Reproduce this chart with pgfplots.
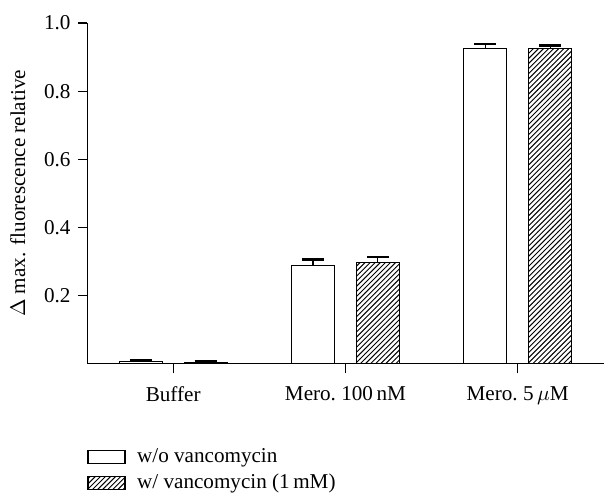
\documentclass[border=0pt]{standalone}
\usepackage{fontspec}
\setmainfont{Liberation Serif}
\usepackage{pgfplots}
\pgfplotsset{compat=1.18}
\usetikzlibrary{patterns.meta}

\pgfdeclarepattern{
  name=hatch,
  parameters={},
  bottom left={\pgfpoint{-0.1pt}{-0.1pt}},
  top right={\pgfpoint{2.5pt}{2.5pt}},
  tile size={\pgfpoint{2.4pt}{2.4pt}},
  tile transformation={},
  code={
    \pgfsetlinewidth{0.45pt}
    \pgfpathmoveto{\pgfpoint{-0.1pt}{-0.1pt}}
    \pgfpathlineto{\pgfpoint{2.5pt}{2.5pt}}
    \pgfusepath{stroke}
  }
}

\begin{document}
\begin{tikzpicture}
\begin{axis}[
  at={(0,0)}, anchor=south west,
  scale only axis,
  width=244.5pt, height=161.3pt,
  axis lines=left,
  axis line style={-, line width=0.5pt},
  xmin=-0.5, xmax=2.5,
  ymin=0, ymax=1.0,
  ybar=10.4pt, bar width=20.3pt,
  xtick={0,1,2},
  xticklabels={Buffer, Mero.\ 100\,nM, Mero.\ 5\,$\mu$M},
  ytick={0.2,0.4,0.6,0.8,1.0},
  yticklabel style={/pgf/number format/.cd, fixed, fixed zerofill, precision=1},
  /pgf/number format/assume math mode=true,
  tick align=outside,
  major tick length=4.3pt,
  tick style={line width=0.5pt, black},
  xticklabel style={yshift=-3pt},
  ylabel={$\Delta$ max. fluorescence relative},
  ylabel style={yshift=2pt},
  legend style={
    at={(0,-0.235)}, anchor=north west,
    draw=none, fill=none, inner sep=0pt,
    row sep=0pt,
    cells={anchor=west},
  },
  legend image code/.code={
    \draw[#1, line width=0.5pt] (0pt,-3.1pt) rectangle (17.5pt,3.1pt);
    \path (21pt,0pt);
  },
  error bars/y dir=plus,
  error bars/y explicit,
  error bars/error bar style={line width=0.5pt, black},
  error bars/error mark options={rotate=90, line width=1.1pt, mark size=5.2pt, black},
]
% without vancomycin
\addplot[draw=black, line width=0.5pt, fill=white]
  coordinates {
    (0,0.008) +- (0,0.003)
    (1,0.288) +- (0,0.018)
    (2,0.925) +- (0,0.014)
  };
% with vancomycin (1 mM)
\addplot[draw=black, line width=0.5pt, pattern=hatch]
  coordinates {
    (0,0.005) +- (0,0.004)
    (1,0.297) +- (0,0.016)
    (2,0.925) +- (0,0.009)
  };
\legend{w/o vancomycin, w/ vancomycin (1\,mM)}
\end{axis}
\pgfresetboundingbox
\path (-41.2pt,-62.4pt) rectangle (244.6pt,172.2pt);
\end{tikzpicture}
\end{document}
